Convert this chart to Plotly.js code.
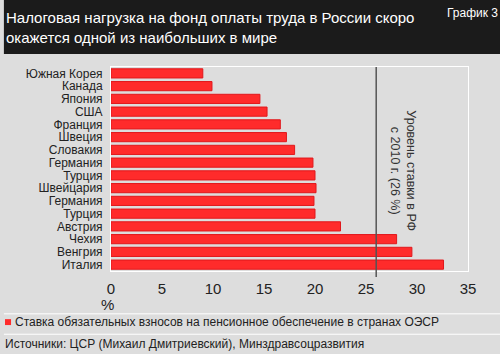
<!DOCTYPE html>
<html>
<head>
<meta charset="utf-8">
<script src="https://cdn.plot.ly/plotly-3.0.1.min.js"></script>
<style>html,body{margin:0;padding:0;background:#dddddd;}#chart{width:500px;height:354px;}</style>
</head>
<body>
<div id="chart"></div>
<script>
const countries = ["Южная Корея","Канада","Япония","США","Франция","Швеция","Словакия","Германия","Турция","Швейцария","Германия","Турция","Австрия","Чехия","Венгрия","Италия"];
const rates = [9.0, 9.9, 14.6, 15.3, 16.6, 17.2, 18.0, 19.8, 20.0, 20.1, 19.9, 20.0, 22.5, 28.0, 29.5, 32.6];
const russiaRate = 26;
const xTicks = [0, 5, 10, 15, 20, 25, 30, 35];
const seriesName = "Ставка обязательных взносов на пенсионное обеспечение в странах ОЭСР";
const titleText = "Налоговая нагрузка на фонд оплаты труда в России скоро<br>окажется одной из наибольших в мире";
const chartLabel = "График 3";
const lineLabel = "Уровень ставки в РФ<br>с 2010 г. (26 %)";
const sourceText = "Источники: ЦСР (Михаил Дмитриевский), Минздравсоцразвития";

const FONT = "Liberation Sans Narrow, Arial Narrow, sans-serif";
const idx = countries.map((_, i) => i);

const trace = {
  type: "bar",
  orientation: "h",
  x: rates,
  y: idx,
  name: seriesName,
  marker: {color: "#ff2b2b", line: {color: "#e0181c", width: 1}},
  hoverinfo: "x"
};

const layout = {
  width: 500, height: 354,
  paper_bgcolor: "#dddddd",
  plot_bgcolor: "#dddddd",
  margin: {l: 111, r: 32, t: 67, b: 83},
  showlegend: false,
  bargap: 0.28,
  font: {family: FONT, color: "#222"},
  xaxis: {
    range: [0, 35],
    tickvals: xTicks,
    ticktext: xTicks.map(String),
    showgrid: false,
    zeroline: false,
    showline: true, mirror: true, linecolor: "#ffffff", linewidth: 1,
    ticks: "",
    ticklabelstandoff: 4,
    tickfont: {family: FONT, size: 15, color: "#222"}
  },
  yaxis: {
    range: [countries.length - 0.5, -0.5],
    tickvals: idx,
    ticktext: countries,
    showgrid: false,
    zeroline: false,
    showline: true, mirror: true, linecolor: "#ffffff", linewidth: 1,
    ticks: "",
    ticklabelstandoff: 5,
    tickfont: {family: FONT, size: 12, color: "#222"}
  },
  shapes: [
    {type: "rect", xref: "paper", yref: "paper", x0: -0.3, x1: 1.1, y0: 1.064, y1: 1.4, fillcolor: "#1b1b1b", line: {width: 0}, layer: "below"},
    {type: "line", xref: "x", yref: "paper", x0: russiaRate, x1: russiaRate, y0: -0.03, y1: 1, line: {color: "#555555", width: 1.5}},
    {type: "line", xref: "paper", yref: "paper", x0: -0.3, x1: 1.1, y0: -0.21, y1: -0.21, line: {color: "#ffffff", width: 1}},
    {type: "line", xref: "paper", yref: "paper", x0: -0.3, x1: 1.1, y0: -0.31, y1: -0.31, line: {color: "#ffffff", width: 1}},
    {type: "rect", xref: "paper", yref: "paper", x0: -0.297, x1: -0.28, y0: -0.265, y1: -0.236, fillcolor: "#ff2b2b", line: {width: 0}}
  ],
  annotations: [
    {xref: "paper", yref: "paper", x: -0.3, y: 1.196, xanchor: "left", yanchor: "middle", align: "left", showarrow: false,
     text: titleText, font: {family: FONT, size: 15, color: "#ffffff"}},
    {xref: "paper", yref: "paper", x: 1.09, y: 1.31, xanchor: "right", yanchor: "top", showarrow: false,
     text: chartLabel, font: {family: FONT, size: 12, color: "#ffffff"}},
    {xref: "x", yref: "paper", x: 28.6, y: 0.49, xanchor: "center", yanchor: "middle", showarrow: false, textangle: 90,
     text: lineLabel, font: {family: FONT, size: 12.5, color: "#333"}},
    {xref: "paper", yref: "paper", x: -0.01, y: -0.165, xanchor: "center", yanchor: "middle", showarrow: false,
     text: "%", font: {family: FONT, size: 15, color: "#222"}},
    {xref: "paper", yref: "paper", x: -0.275, y: -0.25, xanchor: "left", yanchor: "middle", showarrow: false,
     text: seriesName, font: {family: FONT, size: 12, color: "#222"}},
    {xref: "paper", yref: "paper", x: -0.302, y: -0.36, xanchor: "left", yanchor: "middle", showarrow: false,
     text: sourceText, font: {family: FONT, size: 12, color: "#222"}}
  ]
};

Plotly.newPlot("chart", [trace], layout, {displayModeBar: false, staticPlot: true});
</script>
</body>
</html>
